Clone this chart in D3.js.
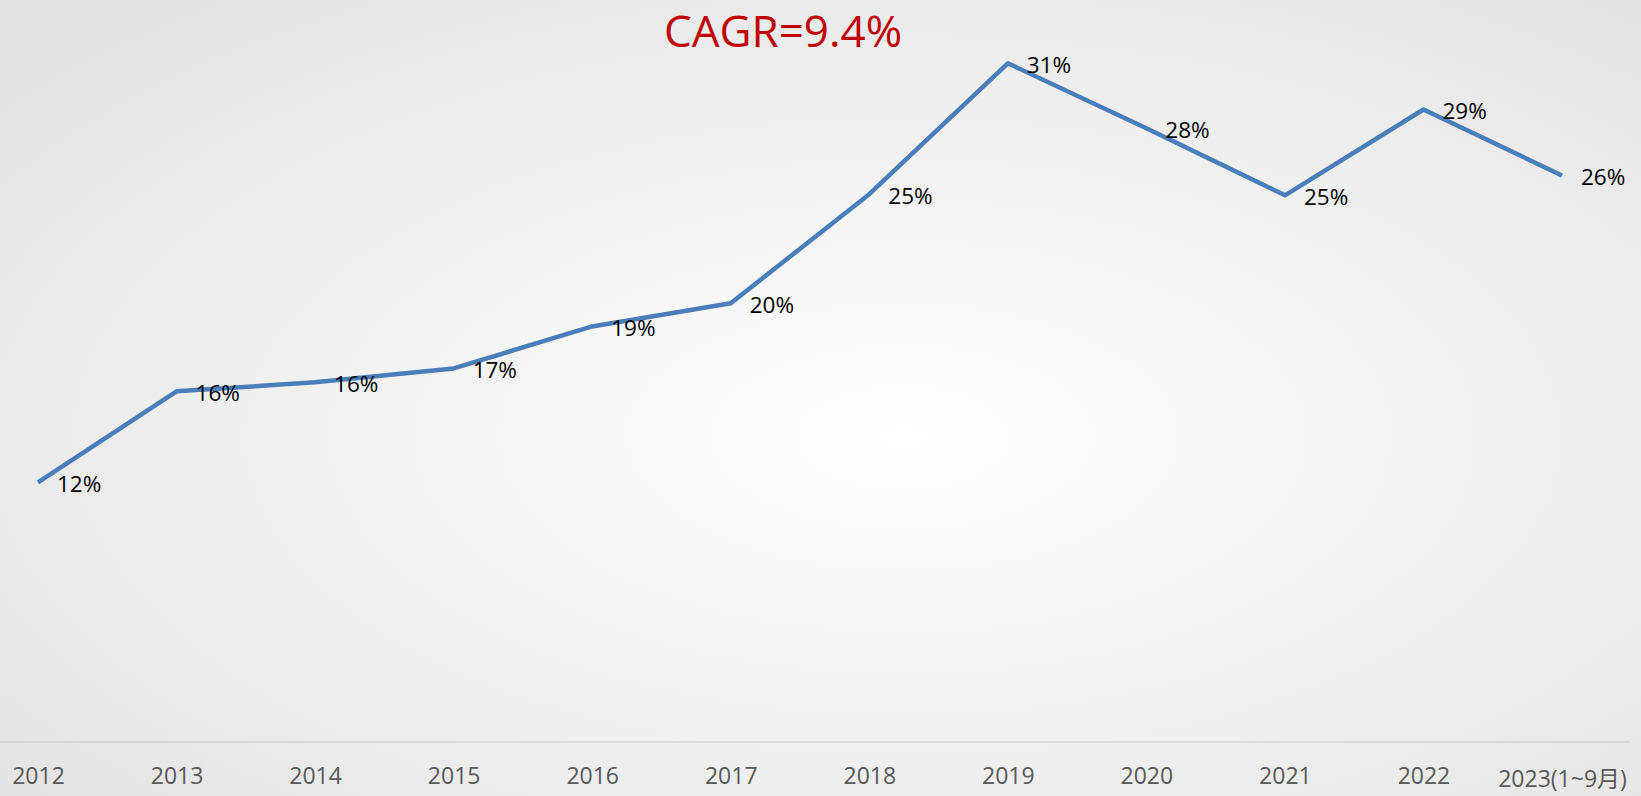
<!DOCTYPE html>
<html>
<head>
<meta charset="utf-8">
<script src="https://cdn.jsdelivr.net/npm/d3@7"></script>
<style>
  html, body {
    margin: 0;
    padding: 0;
    overflow: hidden;
  }
  svg {
    display: block;
    font-family: 'Open Sans', 'Noto Sans', sans-serif;
  }
</style>
</head>
<body>
<svg width="1641" height="796"></svg>
<script>
// Categories on the x axis:
var years = ['2012', '2013', '2014', '2015', '2016', '2017', '2018', '2019', '2020', '2021', '2022', '2023(1~9月)'];

// Share values:
var shares = [0.118, 0.1594, 0.1635, 0.1698, 0.1889, 0.1994, 0.249, 0.3085, 0.279, 0.2485, 0.2875, 0.2575];

// Title text:
var title = 'CAGR=9.4%';

// Build rows from the arrays:
var data = years.map(function (d, i) {
  return { year: d, share: shares[i] };
});

// Select the SVG element:
var svg = d3.select('svg');
var width = 1641;
var height = 796;

// Background radial gradient:
var defs = svg.append('defs');
var grad = defs.append('radialGradient')
  .attr('id', 'bg')
  .attr('cx', '55%')
  .attr('cy', '55%')
  .attr('r', '75%');
grad.append('stop').attr('offset', '0%').attr('stop-color', '#ffffff');
grad.append('stop').attr('offset', '100%').attr('stop-color', '#e2e2e2');

svg.append('rect')
  .attr('width', width)
  .attr('height', height)
  .attr('fill', 'url(#bg)');

// Scales:
var x = d3.scalePoint()
  .domain(years)
  .range([38, 1562]);

var y = d3.scaleLinear()
  .domain([0, 0.32])
  .range([742, 38]);

// Baseline of the x axis:
svg.append('line')
  .attr('x1', 0)
  .attr('x2', 1630)
  .attr('y1', y(0))
  .attr('y2', y(0))
  .attr('stroke', '#d4d4d4')
  .attr('stroke-width', 1.5);

// X axis labels:
var xAxis = svg.append('g')
  .attr('class', 'axis axis-x')
  .attr('transform', 'translate(0,' + y(0) + ')')
  .call(d3.axisBottom(x).tickSize(0).tickPadding(0));

xAxis.select('.domain').remove();

xAxis.selectAll('text')
  .attr('y', 0)
  .attr('dy', 0)
  .attr('transform', function (d) {
    return 'translate(0,' + (d.length > 4 ? 45 : 42) + ')';
  })
  .attr('fill', '#595959')
  .style('font-size', '23px')
  .style('font-family', "'Open Sans', 'Noto Sans CJK TC', sans-serif");

// The line:
var line = d3.line()
  .x(function (d) { return x(d.year); })
  .y(function (d) { return y(d.share); });

svg.append('path')
  .datum(data)
  .attr('fill', 'none')
  .attr('stroke', '#4a7ebb')
  .attr('stroke-width', 4.5)
  .attr('stroke-linejoin', 'round')
  .attr('d', line);

// Data labels to the right of each point:
var fmt = d3.format('.0%');

svg.selectAll('.label')
  .data(data)
  .enter()
  .append('text')
  .attr('class', 'label')
  .attr('x', function (d) { return x(d.year) + 19; })
  .attr('y', function (d) { return y(d.share) + 9.5; })
  .attr('fill', '#000000')
  .style('font-size', '22.5px')
  .text(function (d) { return fmt(d.share); });

// Title:
svg.append('text')
  .attr('x', 783)
  .attr('y', 47)
  .attr('text-anchor', 'middle')
  .attr('fill', '#c00000')
  .style('font-size', '44px')
  .text(title);
</script>
</body>
</html>
